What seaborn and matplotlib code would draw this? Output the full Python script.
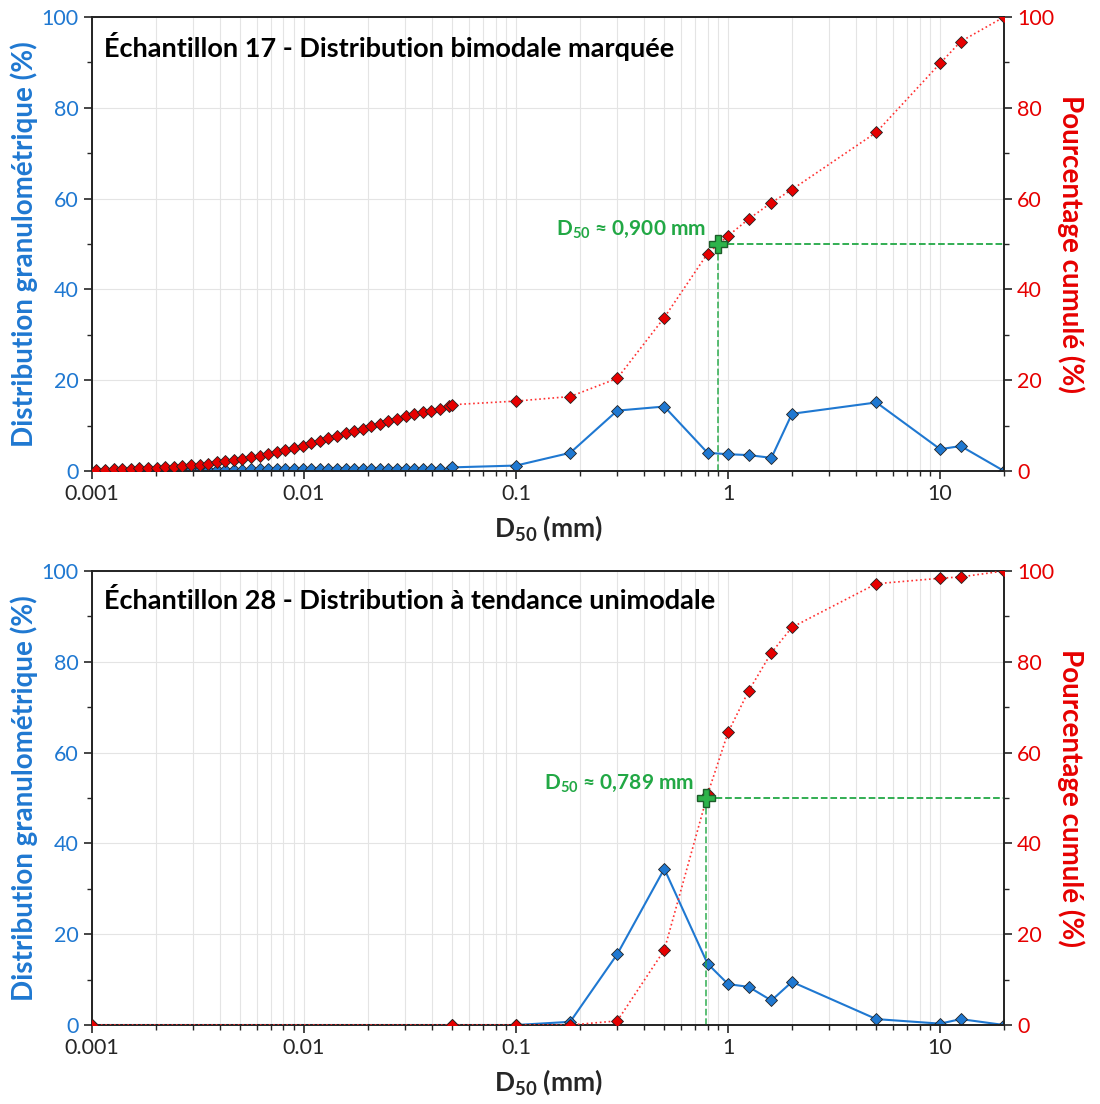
import matplotlib
matplotlib.use("Agg")
import pandas as pd
import matplotlib.pyplot as plt
import matplotlib.ticker as mticker
import seaborn as sns

# fine fraction (laser), mm
fine_sizes = [
    0.00105, 0.001153, 0.001266, 0.001389, 0.001525, 0.001674, 0.001837,
    0.002017, 0.002214, 0.00243, 0.002668, 0.002928, 0.003214, 0.003528,
    0.003873, 0.004252, 0.004667, 0.005123, 0.005624, 0.006173, 0.006777,
    0.007439, 0.008166, 0.008964, 0.00984, 0.0108, 0.01186, 0.01302,
    0.01429, 0.01569, 0.01722, 0.0189, 0.02075, 0.02278, 0.02501, 0.02745,
    0.03013, 0.03308, 0.03631, 0.03986, 0.04376, 0.04804,
]
fine_dist_17 = [
    0.07, 0.08, 0.08, 0.08, 0.08, 0.08, 0.08, 0.09, 0.11, 0.13, 0.15, 0.17,
    0.20, 0.23, 0.26, 0.28, 0.30, 0.32, 0.35, 0.38, 0.42, 0.45, 0.48, 0.50,
    0.51, 0.53, 0.55, 0.55, 0.54, 0.53, 0.53, 0.53, 0.53, 0.53, 0.53, 0.52,
    0.48, 0.43, 0.40, 0.42, 0.45, 0.30,
]
fine_cum_17 = [
    0.2, 0.27, 0.35, 0.43, 0.5, 0.58, 0.66, 0.74, 0.82, 0.95, 1.1, 1.25,
    1.42, 1.62, 1.88, 2.15, 2.42, 2.7, 3.0, 3.32, 3.7, 4.15, 4.6, 5.1, 5.6,
    6.1, 6.62, 7.18, 7.75, 8.28, 8.8, 9.33, 9.88, 10.4, 10.92, 11.48, 12.02,
    12.48, 12.9, 13.25, 13.7, 14.3,
]

# sieve fraction, mm
sieve_sizes = [0.05, 0.1, 0.18, 0.3, 0.5, 0.8, 1, 1.25, 1.6, 2, 5, 10, 12.5, 20]
sieve_dist_17 = [0.8, 1.2, 4.0, 13.3, 14.2, 4.0, 3.7, 3.5, 2.9, 12.6, 15.1, 4.8, 5.5, 0]
sieve_cum_17 = [14.6, 15.4, 16.4, 20.4, 33.8, 47.9, 51.8, 55.5, 59.1, 62.0, 74.6, 89.8, 94.6, 100]

sizes_28 = [0.001] + sieve_sizes
dist_28 = [0, 0, 0, 0.7, 15.6, 34.4, 13.5, 9.0, 8.4, 5.4, 9.5, 1.3, 0.3, 1.3, 0]
cum_28 = [0, 0, 0, 0, 0.9, 16.5, 50.8, 64.5, 73.6, 82.0, 87.6, 97.2, 98.4, 98.7, 100]

d50_17 = 0.900
d50_28 = 0.789

titles = [
    "Échantillon 17 - Distribution bimodale marquée",
    "Échantillon 28 - Distribution à tendance unimodale",
]

BLUE = "#1f78d1"
RED = "#e60000"
GREEN = "#22a845"

sns.set_style("ticks")
plt.rcParams["font.family"] = ["Lato", "DejaVu Sans"]
plt.rcParams["mathtext.fontset"] = "custom"
plt.rcParams["mathtext.rm"] = "Lato"
plt.rcParams["mathtext.bf"] = "Lato:bold"

df17 = pd.DataFrame({
    "size": fine_sizes + sieve_sizes,
    "dist": fine_dist_17 + sieve_dist_17,
    "cum": fine_cum_17 + sieve_cum_17,
})
df28 = pd.DataFrame({"size": sizes_28, "dist": dist_28, "cum": cum_28})

fig = plt.figure(figsize=(11, 11.04), dpi=100)
boxes = [
    [92 / 1100, 1 - 471 / 1104, 912 / 1100, 454 / 1104],
    [92 / 1100, 1 - 1025 / 1104, 912 / 1100, 454 / 1104],
]

for box, df, d50, title in zip(boxes, [df17, df28], [d50_17, d50_28], titles):

    ax = fig.add_axes(box)
    ax2 = ax.twinx()

    sns.lineplot(
        data=df, x="size", y="dist", ax=ax, color=BLUE, lw=1.5,
        marker="D", markersize=6.5, markerfacecolor=BLUE,
        markeredgecolor="#222222", markeredgewidth=0.6, sort=False,
    )
    sns.lineplot(
        data=df, x="size", y="cum", ax=ax2, color="#ff3030", lw=1.2,
        linestyle=":", marker="D", markersize=6.5, markerfacecolor=RED,
        markeredgecolor="#222222", markeredgewidth=0.6, sort=False,
        zorder=3,
    )

    # D50 guides
    ax2.plot([d50, d50], [0, 50], ls="--", color=GREEN, lw=1.3, alpha=0.8, zorder=2)
    ax2.plot([d50, 20], [50, 50], ls="--", color=GREEN, lw=1.3, zorder=2)
    ax2.plot([d50], [50], marker="P", markersize=13, color="#2db34a",
             markeredgecolor="#1d5c2a", markeredgewidth=1.0, zorder=5)
    ax2.annotate(
        r"D$_\mathbf{50}$ ≈ " + f"{d50:.3f}".replace(".", ",") + " mm",
        xy=(d50, 50), xytext=(-9, 10), textcoords="offset points",
        ha="right", va="center", color=GREEN, fontsize=15, fontweight="bold",
    )

    ax.set_xscale("log")
    ax.set_xlim(0.001, 20)
    ax.set_ylim(0, 100)
    ax2.set_ylim(0, 100)
    ax.xaxis.set_major_formatter(mticker.FuncFormatter(lambda v, _: f"{v:g}"))
    ax.xaxis.set_minor_formatter(mticker.NullFormatter())
    for a in (ax, ax2):
        a.yaxis.set_major_locator(mticker.MultipleLocator(20))
        a.yaxis.set_minor_locator(mticker.MultipleLocator(10))
        a.tick_params(which="major", length=6, width=1.2)
        a.tick_params(which="minor", length=3.5, width=1)
        for s in a.spines.values():
            s.set_color("#222222")
            s.set_linewidth(1.2)

    ax.grid(which="both", axis="x", color="#e4e4e4", lw=0.8)
    ax.grid(which="major", axis="y", color="#e4e4e4", lw=0.8)
    ax2.grid(False)

    ax.tick_params(axis="x", labelsize=15.5)
    ax.tick_params(axis="y", labelsize=15.5, labelcolor=BLUE)
    ax2.tick_params(axis="y", labelsize=15.5, labelcolor=RED)

    ax.set_xlabel(r"D$_\mathbf{50}$ (mm)", fontsize=19, fontweight="bold", labelpad=6)
    ax.set_ylabel("Distribution granulométrique (%)", fontsize=20,
                  fontweight="bold", color=BLUE, labelpad=3)
    ax2.set_ylabel("Pourcentage cumulé (%)", fontsize=20, fontweight="bold",
                   color=RED, rotation=270, labelpad=22)

    ax.text(0.013, 0.935, title, transform=ax.transAxes, fontsize=19.5,
            fontweight="bold", va="center", ha="left", color="black")

fig.savefig("out.png", dpi=100)
